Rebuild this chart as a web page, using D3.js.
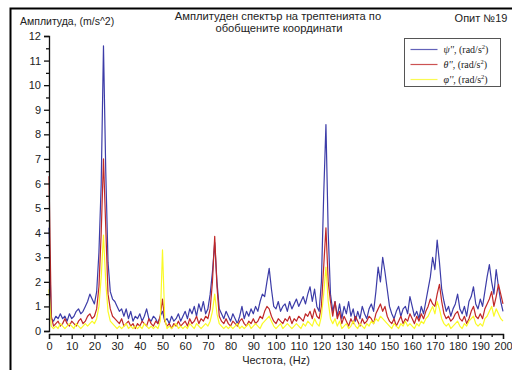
<!DOCTYPE html>
<html>
<head>
<meta charset="utf-8">
<script src="https://cdn.jsdelivr.net/npm/d3@7"></script>
<style>
  body { margin: 0; background: #fff; }
  text { font-family: "Liberation Sans", Arial, sans-serif; fill: #222; }
</style>
</head>
<body>
<div id="chart"></div>
<script>
// frequency step is 1 Hz, starting at 0
const freqStep = 1;
const psi = [
  4.2, 0.5, 0.4, 0.6, 0.5, 0.7, 0.5, 0.6, 0.4, 0.7,
  0.5, 0.6, 0.8, 0.9, 0.7, 0.8, 1.0, 1.2, 1.5, 1.3,
  1.1, 1.6, 3.2, 6.0, 11.6, 6.5, 2.8, 1.6, 1.3, 1.2,
  1.0, 0.8, 0.9, 0.6, 0.9, 0.5, 0.8, 0.4, 0.6, 0.5,
  0.7, 0.4, 0.6, 0.9, 0.5, 0.4, 0.6, 0.5, 0.3, 0.6,
  0.8, 0.4, 0.5, 0.3, 0.6, 0.4, 0.5, 0.7, 0.4, 0.6,
  0.8, 0.5, 0.9, 0.7, 1.0, 0.6, 1.1, 0.8, 1.2, 0.7,
  0.9, 1.5, 2.4, 3.6, 2.0, 0.9, 0.7, 0.5, 0.8, 0.6,
  0.4, 0.7, 0.5, 0.3, 0.6, 1.0, 0.5, 0.8, 0.6, 0.9,
  0.7, 1.0, 0.8, 1.2, 1.5, 1.4, 2.0, 2.55, 1.7, 1.0,
  0.9, 1.2, 0.8, 1.0, 1.1, 0.8, 1.2, 0.9, 1.1, 1.3,
  1.0, 1.2, 1.4, 1.1, 1.5, 1.8, 1.2, 1.7, 1.0, 0.8,
  2.0, 5.5, 8.4, 4.0, 1.5, 0.8, 1.2, 0.6, 1.1, 0.5,
  1.0, 0.7, 1.2, 0.6, 0.9, 0.4, 0.8, 0.5, 1.0, 0.7,
  0.5, 0.9, 1.1, 0.8, 1.6, 2.6, 2.0, 3.0, 2.4, 1.7,
  1.0, 0.7, 0.5, 0.8, 1.0, 0.6, 0.9, 1.0, 0.7, 1.4,
  1.0, 0.6, 0.8, 0.5, 1.0, 0.7, 1.2, 1.7, 2.2, 3.0,
  2.5, 3.7, 2.8, 1.7, 1.2, 0.8, 1.0, 0.6, 0.9, 1.1,
  1.5, 0.9, 0.7, 1.0, 0.6, 1.2, 1.4, 1.8, 1.1, 0.9,
  1.3, 1.0, 1.6, 2.2, 2.7, 2.0, 1.5, 2.5, 1.8, 1.2,
  0.8
];
const theta = [
  6.3, 0.6, 0.2, 0.3, 0.4, 0.2, 0.3, 0.5, 0.3, 0.2,
  0.4, 0.3, 0.2, 0.4, 0.5, 0.3, 0.4, 0.6, 0.7, 0.5,
  0.6, 0.9, 1.8, 4.0, 7.0, 4.2, 1.5, 0.9, 0.6, 0.5,
  0.4, 0.3, 0.5, 0.2, 0.3, 0.4, 0.2, 0.3, 0.1, 0.3,
  0.2, 0.4, 0.3, 0.2, 0.5, 0.3, 0.2, 0.4, 0.3, 0.6,
  1.3, 0.4, 0.2, 0.3, 0.1, 0.3, 0.2, 0.4, 0.2, 0.3,
  0.4, 0.2, 0.5, 0.3, 0.4, 0.6, 0.3, 0.5, 0.4, 0.6,
  0.5, 0.9, 2.0, 3.85, 1.8, 0.6, 0.4, 0.3, 0.5, 0.3,
  0.2, 0.4, 0.3, 0.2, 0.4, 0.5, 0.3, 0.2, 0.4, 0.3,
  0.5, 0.3, 0.4, 0.6, 0.5, 0.8, 1.0, 0.9, 0.6, 0.4,
  0.3, 0.5, 0.4, 0.3, 0.5, 0.4, 0.6, 0.3, 0.5, 0.4,
  0.6, 0.5, 0.4, 0.7, 0.6, 0.8, 0.5, 0.9, 0.6, 0.5,
  1.0, 2.6, 4.2, 2.0, 1.2, 0.6, 1.2, 0.5, 0.8, 0.3,
  0.6, 0.4, 0.2, 0.5, 0.3, 0.6, 0.4, 0.2, 0.5, 0.3,
  0.4, 0.6, 0.5, 0.3, 0.7, 0.9, 1.1, 0.8, 1.0, 0.6,
  0.4, 0.3, 0.5, 0.2, 0.4, 0.6, 0.3, 0.5, 0.4, 0.7,
  0.5, 0.3, 0.6, 0.4, 0.7, 0.5, 0.8, 1.0, 1.3, 1.1,
  1.0, 1.5, 1.9, 1.2, 0.7, 0.5, 0.6, 0.4, 0.5, 0.7,
  0.8, 0.5, 0.4, 0.6, 0.3, 0.5, 0.8, 1.0, 0.6, 0.5,
  0.7, 0.5, 0.9, 1.1, 1.3, 1.6, 1.0, 1.4, 1.9, 1.5,
  1.1
];
const phi = [
  1.7, 0.2, 0.1, 0.2, 0.1, 0.3, 0.2, 0.1, 0.2, 0.3,
  0.2, 0.1, 0.3, 0.2, 0.1, 0.2, 0.3, 0.2, 0.3, 0.4,
  0.3, 0.5, 1.0, 2.2, 3.9, 2.0, 0.8, 0.4, 0.3, 0.2,
  0.1, 0.2, 0.1, 0.2, 0.3, 0.1, 0.2, 0.1, 0.2, 0.1,
  0.2, 0.1, 0.3, 0.2, 0.1, 0.2, 0.1, 0.2, 0.1, 0.4,
  3.3, 0.5, 0.1, 0.2, 0.1, 0.2, 0.3, 0.1, 0.2, 0.1,
  0.2, 0.1, 0.3, 0.2, 0.1, 0.3, 0.2, 0.1, 0.2, 0.3,
  0.2, 0.4, 0.8, 1.5, 0.7, 0.3, 0.2, 0.1, 0.2, 0.1,
  0.2, 0.1, 0.2, 0.3, 0.1, 0.2, 0.1, 0.2, 0.3, 0.1,
  0.2, 0.3, 0.2, 0.1, 0.3, 0.4, 0.5, 0.6, 0.4, 0.2,
  0.1, 0.2, 0.3, 0.1, 0.2, 0.3, 0.2, 0.1, 0.2, 0.3,
  0.2, 0.1, 0.3, 0.2, 0.4, 0.3, 0.2, 0.5, 0.3, 0.2,
  0.6, 1.5, 2.6, 1.2, 0.5, 0.3, 0.5, 0.2, 0.4, 0.1,
  0.2, 0.3, 0.1, 0.2, 0.4, 0.2, 0.1, 0.3, 0.2, 0.1,
  0.3, 0.2, 0.4, 0.3, 0.5, 0.4, 0.6, 0.5, 0.4, 0.3,
  0.2, 0.1, 0.3, 0.2, 0.1, 0.3, 0.2, 0.4, 0.2, 0.3,
  0.2, 0.1, 0.3, 0.2, 0.4, 0.3, 0.5, 0.6, 0.8, 1.0,
  0.7, 1.2, 0.9, 0.5, 0.3, 0.2, 0.3, 0.1, 0.2, 0.3,
  0.4, 0.2, 0.1, 0.3, 0.2, 0.4, 0.5, 0.6, 0.3, 0.2,
  0.3, 0.2, 0.5, 0.6, 0.8, 1.0, 0.6, 0.9, 0.7, 0.5,
  0.4
];
const seriesNames = ["ψ''", "θ''", "φ''"];
const seriesColors = ["#3c3ca8", "#c02828", "#fafa28"];
const xTicks = d3.range(0, 201, 10);
const yTicks = d3.range(0, 13, 1);

const width = 512, height = 370;
const margin = {left: 49, right: 9, top: 36, bottom: 39};

const svg = d3.select("#chart").append("svg")
  .attr("width", width)
  .attr("height", height);

// outer frame (only top and left edges are visible)
svg.append("path")
  .attr("d", "M10.5,370 V8.5 H512")
  .attr("fill", "none")
  .attr("stroke", "#000")
  .attr("stroke-width", 2);

const x = d3.scaleLinear().domain([0, 200]).range([margin.left, width - margin.right]);
const y = d3.scaleLinear().domain([0, 12]).range([height - margin.bottom, margin.top]);

const line = d3.line()
  .x((d, i) => x(i * freqStep))
  .y(d => y(d));

[psi, theta, phi].forEach((s, k) => {
  svg.append("path")
    .datum(s)
    .attr("fill", "none")
    .attr("stroke", seriesColors[k])
    .attr("stroke-width", 1.2)
    .attr("stroke-linejoin", "round")
    .attr("d", line);
});

// y axis
svg.append("g")
  .attr("transform", `translate(${margin.left},0)`)
  .call(d3.axisLeft(y).tickValues(yTicks).tickSize(5).tickPadding(3));
svg.append("g")
  .attr("transform", `translate(${margin.left},0)`)
  .call(d3.axisLeft(y).tickValues(d3.range(0.5, 12, 1)).tickSize(3).tickFormat(""))
  .select(".domain").remove();

// x axis
svg.append("g")
  .attr("transform", `translate(0,${y(0) + 3})`)
  .call(d3.axisBottom(x).tickValues(xTicks).tickSize(5).tickPadding(3));
svg.append("g")
  .attr("transform", `translate(0,${y(0) + 3})`)
  .call(d3.axisBottom(x).tickValues(d3.range(5, 200, 10)).tickSize(3).tickFormat(""))
  .select(".domain").remove();

svg.selectAll(".tick text").attr("font-size", 11).attr("fill", "#222");
svg.selectAll(".domain, .tick line").attr("stroke", "#111").attr("stroke-width", 1.3);

// titles
svg.append("text").attr("x", 20).attr("y", 25).attr("font-size", 10.5)
  .text("Амплитуда, (m/s^2)");
svg.append("text").attr("x", 278).attr("y", 20).attr("font-size", 11.2).attr("text-anchor", "middle")
  .text("Амплитуден спектър на трептенията по");
svg.append("text").attr("x", 279).attr("y", 32).attr("font-size", 11.2).attr("text-anchor", "middle")
  .text("обобщените координати");
svg.append("text").attr("x", 481).attr("y", 22).attr("font-size", 11).attr("text-anchor", "middle")
  .text("Опит №19");
svg.append("text").attr("x", 276).attr("y", 364).attr("font-size", 11).attr("text-anchor", "middle")
  .text("Честота, (Hz)");

// legend
const lg = svg.append("g").attr("transform", "translate(404.5,38.5)");
lg.append("rect").attr("width", 96).attr("height", 48)
  .attr("fill", "#fff").attr("stroke", "#555").attr("stroke-width", 1);
seriesNames.forEach((name, k) => {
  const yy = 11 + k * 15;
  lg.append("line").attr("x1", 6).attr("x2", 33).attr("y1", yy).attr("y2", yy)
    .attr("stroke", seriesColors[k]).attr("stroke-width", 1.2).attr("opacity", 0.8);
  const t = lg.append("text").attr("x", 39).attr("y", yy + 3)
    .attr("font-size", 10).style("font-family", "'Liberation Serif', 'DejaVu Serif', serif");
  t.append("tspan").attr("font-style", "italic").text(name);
  t.append("tspan").text(", (rad/s");
  t.append("tspan").attr("font-size", 6.5).attr("dy", -4).text("2");
  t.append("tspan").attr("dy", 4).text(")");
});
</script>
</body>
</html>
